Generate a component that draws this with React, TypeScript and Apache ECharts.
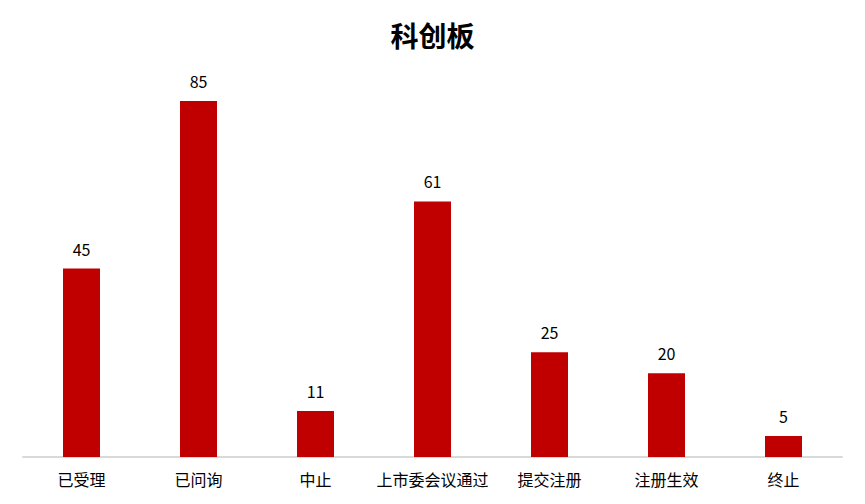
import React, { useEffect, useRef } from "react";
import * as echarts from "echarts";

const categories = ["已受理", "已问询", "中止", "上市委会议通过", "提交注册", "注册生效", "终止"];
const values = [45, 85, 11, 61, 25, 20, 5];
const titleText = "科创板";

export default function App() {
  const ref = useRef<HTMLDivElement>(null);
  useEffect(() => {
    const chart = echarts.init(ref.current!, null, { renderer: "svg" });
    chart.setOption({
      animation: false,
      backgroundColor: "#ffffff",
      title: {
        text: titleText,
        left: "center",
        top: 16,
        textStyle: { fontSize: 28, fontWeight: "bold", color: "#000", fontFamily: "Noto Sans CJK SC" },
      },
      grid: { left: 23, right: 23, top: 80, bottom: 47 },
      xAxis: {
        type: "category",
        data: categories,
        axisLine: { lineStyle: { color: "#D9D9D9", width: 2 } },
        axisTick: { show: false },
        axisLabel: { color: "#000", fontSize: 16, margin: 14, fontFamily: "Noto Sans CJK SC", interval: 0 },
      },
      yAxis: {
        type: "value",
        min: 0,
        max: 90,
        show: false,
        splitLine: { show: false },
      },
      series: [
        {
          type: "bar",
          data: values,
          barWidth: 37,
          itemStyle: { color: "#C00000" },
          label: {
            show: true,
            position: "top",
            distance: 12,
            color: "#000",
            fontSize: 16,
            fontFamily: "Noto Sans CJK SC",
          },
        },
      ],
    });
    return () => chart.dispose();
  }, []);
  return <div ref={ref} style={{ position: "fixed", left: 0, top: 0, width: 865, height: 504 }} />;
}
